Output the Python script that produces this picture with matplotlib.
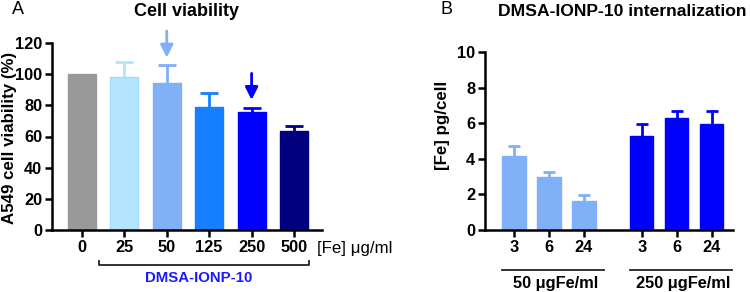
import numpy as np
import matplotlib
matplotlib.use('Agg')
from matplotlib import pyplot as plt
from matplotlib.transforms import blended_transform_factory

plt.rcParams['font.family'] = ['Liberation Sans', 'DejaVu Sans']

# Panel A: cell viability
doses = ['0', '25', '50', '125', '250', '500']
viability = [100, 98, 94.5, 78.8, 76, 63.7]
viability_err = [0, 9.6, 11.2, 9.0, 2.5, 3.3]
colors_a = ['#999999', '#b3e5fc', '#80b0f8', '#1480ff', '#0000ff', '#000080']
edges_a = ['#999999', '#a0dcff', '#80b0f8', '#1480ff', '#0000ff', '#000080']
arrow_bars = [2, 4]

# Panel B: internalization
times = ['3', '6', '24']
fe_50 = [4.16, 3.0, 1.65]
fe_50_err = [0.58, 0.28, 0.29]
fe_250 = [5.28, 6.29, 5.96]
fe_250_err = [0.68, 0.40, 0.73]
groups = ['50 \u03bcgFe/ml', '250 \u03bcgFe/ml']
colors_b = ['#80b0f8', '#0000ff']

W, H = 750, 292
FS = 11.8
fig = plt.figure(figsize=(W / 100, H / 100), dpi=100)


def px_axes(x0, y0, x1, y1):
    return fig.add_axes([x0 / W, 1 - y1 / H, (x1 - x0) / W, (y1 - y0) / H])


def style(ax):
    for s in ('top', 'right'):
        ax.spines[s].set_visible(False)
    for s in ('left', 'bottom'):
        ax.spines[s].set_linewidth(1.8)
    ax.tick_params(width=1.8, length=5, labelsize=FS, pad=2)
    for lab in ax.get_xticklabels() + ax.get_yticklabels():
        lab.set_fontweight('bold')


def bars(ax, x, vals, errs, cols, edges, width, cap):
    for xi, v, e, c, ec in zip(x, vals, errs, cols, edges):
        ax.bar(xi, v, width, color=c, edgecolor=ec, linewidth=1.0, zorder=2)
        if e > 0:
            ax.vlines(xi, v, v + e, color=c, lw=2, zorder=1)
            ax.hlines(v + e, xi - cap, xi + cap, color=c, lw=2, zorder=1)


# ---- A ----
axA = px_axes(52, 43, 322, 230)
xa = np.arange(len(doses))
bars(axA, xa, viability, viability_err, colors_a, edges_a, 0.66, 0.21)
axA.set_xlim(-0.706, 5.66)
axA.set_ylim(0, 120)
axA.set_yticks(range(0, 121, 20))
axA.set_xticks(xa)
axA.set_xticklabels(doses)
style(axA)
fig.text(10 / W, 1 - 138 / H, 'A549 cell viability (%)', rotation=90, fontsize=12.2,
         fontweight='bold', ha='center', va='center')

for i in arrow_bars:
    top = viability[i] + viability_err[i]
    axA.annotate('', xy=(xa[i], top + 5), xytext=(xa[i], top + 22),
                 arrowprops=dict(arrowstyle='-|>,head_length=0.75,head_width=0.38',
                                 color=colors_a[i], lw=2, shrinkA=0, shrinkB=0))

ta = blended_transform_factory(axA.transData, axA.transAxes)
axA.plot([0.4, 0.4, 5.36, 5.36], [-0.166, -0.187, -0.187, -0.166], color='#222222',
         lw=1.3, transform=ta, clip_on=False)
axA.text(2.75, -0.257, 'DMSA-IONP-10', color='#1a1aff', fontsize=10.8, fontweight='bold',
         ha='center', va='center', transform=ta)
fig.text(317 / W, 1 - 249 / H, '[Fe] \u03bcg/ml', fontsize=12.2, ha='left', va='center')

# ---- B ----
axB = px_axes(485, 52, 733, 230)
off = 3.65
xb1 = np.arange(len(times))
xb2 = xb1 + off
bars(axB, xb1, fe_50, fe_50_err, [colors_b[0]] * 3, [colors_b[0]] * 3, 0.66, 0.17)
bars(axB, xb2, fe_250, fe_250_err, [colors_b[1]] * 3, [colors_b[1]] * 3, 0.66, 0.17)
axB.set_xlim(-0.83, 6.26)
axB.set_ylim(0, 10)
axB.set_yticks(range(0, 11, 2))
axB.set_xticks(np.concatenate([xb1, xb2]))
axB.set_xticklabels(times + times)
style(axB)

tb = blended_transform_factory(axB.transData, axB.transAxes)
for start, name in zip([0, off], groups):
    axB.plot([start - 0.34, start + 2.57], [-0.225, -0.225], color='#222222', lw=1.3,
             transform=tb, clip_on=False)
    axB.text(start + 1.2, -0.298, name, fontsize=11.8, fontweight='bold',
             ha='center', va='center', transform=tb)

fig.text(443 / W, 1 - 125 / H, '[Fe] pg/cell', rotation=90, fontsize=12.2,
         fontweight='bold', ha='center', va='center')

# titles and panel letters
fig.text(186 / W, 1 - 11 / H, 'Cell viability', fontsize=13, fontweight='bold',
         ha='center', va='center')
fig.text(622 / W, 1 - 11 / H, 'DMSA-IONP-10 internalization', fontsize=12.6,
         fontweight='bold', ha='center', va='center')
fig.text(12 / W, 1 - 10 / H, 'A', fontsize=13, ha='left', va='center')
fig.text(440 / W, 1 - 10 / H, 'B', fontsize=13, ha='left', va='center')

fig.savefig('out.png', dpi=100)
